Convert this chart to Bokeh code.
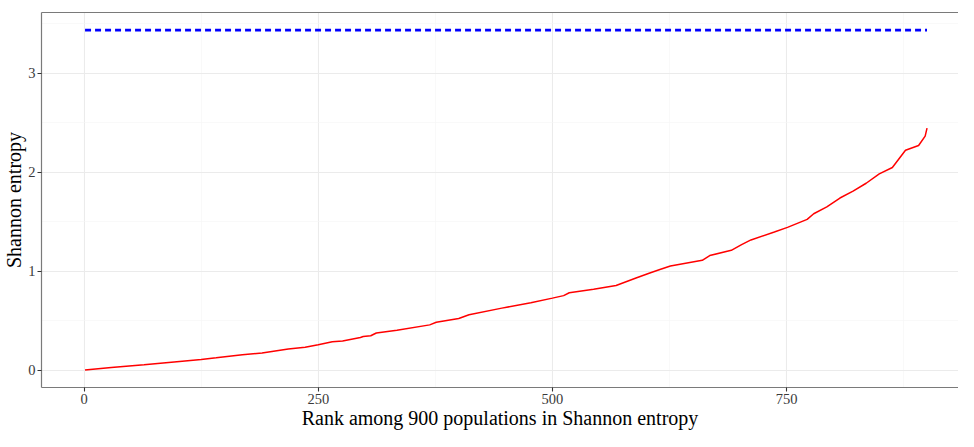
from bokeh.plotting import figure
from bokeh.models import FixedTicker, LinearAxis, Range1d
from bokeh.embed import file_html
from bokeh.resources import INLINE

# Data
rank = [1, 29, 64, 99, 125, 141, 169, 190, 218, 236, 250, 265, 276, 295, 298, 306, 312,
        334, 369, 376, 400, 411, 446, 477, 500, 512, 518, 544, 568, 590, 604, 614, 626,
        660, 668, 691, 702, 712, 737, 751, 772, 779, 793, 807, 821, 835, 849, 863, 877,
        891, 898, 900]
entropy = [0.005, 0.031, 0.057, 0.089, 0.110, 0.127, 0.159, 0.175, 0.216, 0.235, 0.260,
           0.290, 0.298, 0.333, 0.343, 0.350, 0.378, 0.406, 0.460, 0.486, 0.524, 0.562,
           0.629, 0.683, 0.730, 0.755, 0.784, 0.819, 0.857, 0.936, 0.984, 1.016, 1.054,
           1.111, 1.159, 1.212, 1.270, 1.317, 1.397, 1.444, 1.524, 1.581, 1.650, 1.740,
           1.810, 1.889, 1.984, 2.048, 2.222, 2.270, 2.365, 2.445]
max_rank = [1, 900]
max_entropy = [3.434, 3.434]

x_ticks = [0, 250, 500, 750]
x_minor = [125, 375, 625, 875]
y_ticks = [0, 1, 2, 3]
y_minor = [0.5, 1.5, 2.5, 3.5]

FONT = "Liberation Serif"
BORDER = "#7a7a7a"

p = figure(width=958, height=431, output_backend="svg", toolbar_location=None,
           x_range=Range1d(-45.5, 933.6), y_range=Range1d(-0.172, 3.612),
           min_border_left=0, min_border_right=0, min_border_top=12, min_border_bottom=0)
p.outline_line_color = None
p.background_fill_color = "white"
p.border_fill_color = "white"

p.line(rank, entropy, line_color="#ff0000", line_width=1.5)
p.line(max_rank, max_entropy, line_color="#0000ff", line_width=2.7, line_dash="6 4")

for ax, ticks, minor in ((p.xaxis[0], x_ticks, x_minor), (p.yaxis[0], y_ticks, y_minor)):
    ax.ticker = FixedTicker(ticks=ticks, minor_ticks=minor)
    ax.axis_line_color = BORDER
    ax.axis_line_width = 1.2
    ax.major_tick_line_color = "#333333"
    ax.major_tick_line_width = 1.1
    ax.major_tick_in = 0
    ax.major_tick_out = 4
    ax.minor_tick_line_color = None
    ax.major_label_text_font = FONT
    ax.major_label_text_font_size = "14.5px"
    ax.major_label_text_color = "#3a3a3a"
    ax.major_label_standoff = 2
    ax.axis_label_text_font = FONT
    ax.axis_label_text_font_size = "20px"
    ax.axis_label_text_font_style = "normal"
    ax.axis_label_text_color = "#000000"
    ax.axis_label_standoff = 0

p.xaxis.axis_label = "Rank among 900 populations in Shannon entropy"
p.yaxis.axis_label = "Shannon entropy"

top = LinearAxis(ticker=FixedTicker(ticks=[]), axis_line_color=BORDER, axis_line_width=1.2,
                 major_tick_line_color=None, minor_tick_line_color=None,
                 major_label_text_font_size="0px", major_label_standoff=0)
p.add_layout(top, "above")

for g in p.grid:
    g.grid_line_color = "#ebebeb"
    g.grid_line_width = 1.1
    g.minor_grid_line_color = "#f5f5f5"
    g.minor_grid_line_width = 0.6

html = file_html(p, INLINE)
open("out.html", "w").write(html)
